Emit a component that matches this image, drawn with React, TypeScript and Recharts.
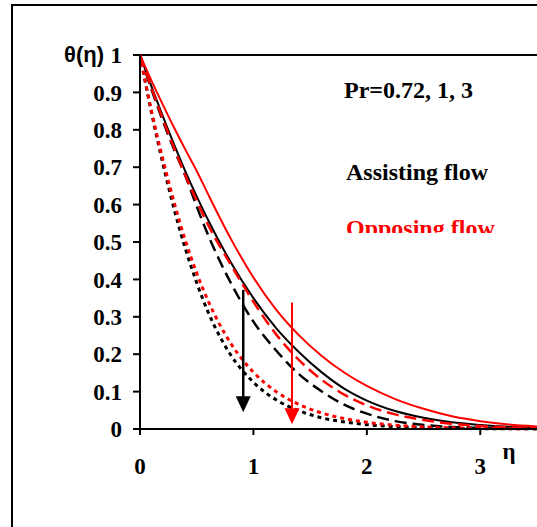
import React from "react";
import {
  LineChart,
  Line,
  XAxis,
  YAxis,
  ReferenceLine,
  Customized,
} from "recharts";

// similarity variable
const eta = [0, 0.1, 0.2, 0.3, 0.4, 0.5, 0.6, 0.8, 1.0, 1.2, 1.4, 1.6, 1.8, 2.0, 2.25, 2.5, 2.75, 3.0, 3.25, 3.5];

// assisting flow (black), Pr = 0.72, 1, 3
const assistPr072 = [1, 0.917, 0.837, 0.761, 0.689, 0.622, 0.559, 0.446, 0.35, 0.27, 0.206, 0.152, 0.108, 0.076, 0.048, 0.03, 0.018, 0.011, 0.006, 0.003];
const assistPr1 = [1, 0.909, 0.825, 0.748, 0.677, 0.595, 0.519, 0.391, 0.287, 0.21, 0.147, 0.101, 0.065, 0.041, 0.021, 0.011, 0.0055, 0.003, 0.0015, 0.001];
const assistPr3 = [1, 0.848, 0.712, 0.589, 0.482, 0.391, 0.313, 0.198, 0.125, 0.078, 0.049, 0.03, 0.019, 0.0116, 0.0065, 0.0036, 0.002, 0.0011, 0.0006, 0.0003];

// opposing flow (red), Pr = 0.72, 1, 3
const opposePr072 = [1, 0.932, 0.868, 0.806, 0.747, 0.69, 0.628, 0.509, 0.405, 0.319, 0.251, 0.196, 0.151, 0.115, 0.08, 0.054, 0.034, 0.021, 0.012, 0.007];
const opposePr1 = [1, 0.913, 0.83, 0.752, 0.678, 0.61, 0.546, 0.44, 0.34, 0.253, 0.185, 0.132, 0.092, 0.063, 0.039, 0.024, 0.014, 0.008, 0.0045, 0.0025];
const opposePr3 = [1, 0.852, 0.723, 0.607, 0.504, 0.417, 0.343, 0.229, 0.152, 0.1, 0.066, 0.043, 0.028, 0.018, 0.01, 0.0057, 0.0032, 0.0018, 0.001, 0.0006];

const xTicks = [0, 1, 2, 3];
const yTicks = [0, 0.1, 0.2, 0.3, 0.4, 0.5, 0.6, 0.7, 0.8, 0.9, 1];

// arrows showing increasing Pr: [eta, top theta, tip theta]
const blackArrow = [0.91, 0.372, 0.045];
const redArrow = [1.34, 0.338, 0.013];

const data = eta.map((e, i) => ({
  eta: e,
  a072: assistPr072[i],
  a1: assistPr1[i],
  a3: assistPr3[i],
  o072: opposePr072[i],
  o1: opposePr1[i],
  o3: opposePr3[i],
}));

const serif = "'Liberation Serif', 'Times New Roman', serif";
const sans = "'Liberation Sans', Arial, sans-serif";

const arrowShape = (color: string, width: number) => (props: any) => {
  const { x1, y1, x2, y2 } = props;
  const headH = 16;
  const headW = 15;
  return (
    <g>
      <line x1={x1} y1={y1} x2={x2} y2={y2 - headH + 1} stroke={color} strokeWidth={width} />
      <polygon
        points={`${x2 - headW / 2},${y2 - headH} ${x2 + headW / 2},${y2 - headH} ${x2},${y2}`}
        fill={color}
      />
    </g>
  );
};

const Annotations = () => (
  <g fontFamily={serif} fontWeight="bold" fontSize={24}>
    <defs>
      <clipPath id="oppClip">
        <rect x={300} y={200} width={237} height={33} />
      </clipPath>
    </defs>
    <text x={104} y={62} textAnchor="end" fontFamily={sans} fontSize={22}>
      θ(η)
    </text>
    <text x={344} y={98}>Pr=0.72, 1, 3</text>
    <text x={346} y={180}>Assisting flow</text>
    <text x={346} y={236} fill="#ff0000" clipPath="url(#oppClip)">
      Opposing flow
    </text>
    <text x={509} y={459} textAnchor="middle" fontSize={23}>
      η
    </text>
  </g>
);

export default function App() {
  return (
    <div style={{ position: "absolute", left: 0, top: 0, width: 537, height: 527, background: "#fff" }}>
      <div
        style={{
          position: "absolute",
          left: 11,
          top: 4,
          width: 600,
          height: 600,
          borderLeft: "2px solid #000",
          borderTop: "2px solid #000",
        }}
      />
      <div style={{ position: "absolute", left: 0, top: 0 }}>
        <LineChart
          width={537}
          height={527}
          data={data}
          margin={{ top: 55, right: 0, bottom: 68, left: 80 }}
        >
          <XAxis
            dataKey="eta"
            type="number"
            domain={[0, 3.5]}
            ticks={xTicks}
            allowDataOverflow
            stroke="#000"
            strokeWidth={2}
            tickSize={6}
            tickMargin={23}
            height={30}
            tick={{ fill: "#000", fontFamily: serif, fontWeight: "bold", fontSize: 23 }}
          />
          <YAxis
            type="number"
            domain={[0, 1]}
            ticks={yTicks}
            width={60}
            stroke="#000"
            strokeWidth={2}
            tickSize={7}
            tickMargin={11}
            tickFormatter={(v: number) => String(Math.round(v * 10) / 10)}
            tick={{ fill: "#000", fontFamily: serif, fontWeight: "bold", fontSize: 23 }}
          />
          <ReferenceLine y={1} stroke="#000" strokeWidth={2} />
          <Line dataKey="a072" type="monotone" stroke="#000" strokeWidth={2} dot={false} isAnimationActive={false} />
          <Line dataKey="a1" type="monotone" stroke="#000" strokeWidth={2.5} strokeDasharray="12 6" dot={false} isAnimationActive={false} />
          <Line dataKey="a3" type="monotone" stroke="#000" strokeWidth={3} strokeDasharray="4 4" dot={false} isAnimationActive={false} />
          <Line dataKey="o072" type="monotone" stroke="#ff0000" strokeWidth={2} dot={false} isAnimationActive={false} />
          <Line dataKey="o1" type="monotone" stroke="#ff0000" strokeWidth={2.5} strokeDasharray="12 6" dot={false} isAnimationActive={false} />
          <Line dataKey="o3" type="monotone" stroke="#ff0000" strokeWidth={3} strokeDasharray="4 4" dot={false} isAnimationActive={false} />
          <ReferenceLine
            segment={[
              { x: blackArrow[0], y: blackArrow[1] },
              { x: blackArrow[0], y: blackArrow[2] },
            ]}
            shape={arrowShape("#000", 2.5)}
          />
          <ReferenceLine
            segment={[
              { x: redArrow[0], y: redArrow[1] },
              { x: redArrow[0], y: redArrow[2] },
            ]}
            shape={arrowShape("#ff0000", 2)}
          />
          <Customized component={Annotations} />
        </LineChart>
      </div>
    </div>
  );
}
